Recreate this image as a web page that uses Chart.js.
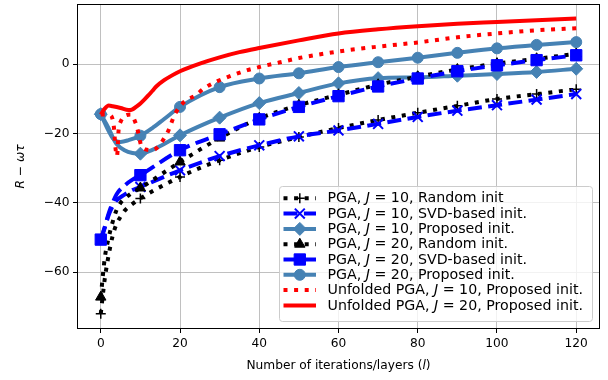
<!DOCTYPE html>
<html>
<head>
<meta charset="utf-8">
<script src="https://cdn.jsdelivr.net/npm/chart.js@4/dist/chart.umd.min.js"></script>
<style>
  html, body { margin: 0; padding: 0; background: #fff; }
  #wrap { width: 608px; height: 380px; }
</style>
</head>
<body>
<div id="wrap"><canvas id="c" width="608" height="380"></canvas></div>
<script>
// ------ data ------
const xTicks = [0, 20, 40, 60, 80, 100, 120];
const yTicks = [-60, -40, -20, 0];

const itRand   = [0, 1, 2, 3, 4, 5, 6, 8, 10, 20, 30, 40, 50, 60, 70, 80, 90, 100, 110, 120];
const rand10   = [-72, -62, -55, -49.5, -46, -44, -42.3, -40.3, -38.7, -32.5, -27.7, -23.9, -21, -18.4, -16.1, -14, -12, -10, -8.6, -7.2];
const rand20   = [-67.2, -56, -50, -45.5, -42, -40, -38.8, -37, -35.7, -28.2, -21.3, -15.6, -11.8, -8.8, -5.9, -3.6, -1.5, 0.2, 1.6, 3.0];

const itSvd    = [0, 1, 2, 3, 4, 6, 8, 10, 20, 30, 40, 50, 60, 70, 80, 90, 100, 110, 120];
const svd10    = [-50.6, -47.2, -43.5, -41, -39.3, -37.6, -36.3, -35.4, -30.6, -26.5, -23.4, -20.8, -19.1, -17.2, -15.2, -13.4, -11.8, -10.2, -8.6];
const svd20    = [-50.6, -47, -43, -40, -37.5, -35, -33.3, -32, -24.8, -20.2, -15.9, -12.3, -9.2, -6.4, -4.1, -2, -0.3, 1.2, 2.6];

const itProp10 = [0, 2, 3, 4, 6, 8, 10, 13, 16, 20, 30, 40, 50, 60, 70, 80, 90, 100, 110, 120];
const prop10   = [-14.4, -18.5, -21, -23, -24.8, -25.6, -25.8, -24.7, -23, -20.5, -15.4, -11.2, -8.3, -5.5, -4.0, -3.8, -3.3, -2.8, -2.2, -1.3];
const itProp20 = [0, 2, 3, 4, 5, 7, 10, 13, 16, 20, 30, 40, 50, 60, 70, 80, 90, 100, 110, 120];
const prop20   = [-14.4, -19.3, -21.3, -22.2, -22.4, -21.9, -20.6, -18.4, -15.8, -12.3, -6.6, -4.1, -2.6, -0.8, 0.6, 1.9, 3.3, 4.6, 5.6, 6.4];

const itUnf10  = [0, 2.4, 3.3, 3.7, 4.1, 4.5, 5, 7.5, 9, 10.4, 12.9, 16.7, 18.8, 21, 24, 26, 29, 32, 37, 40, 45, 50, 60, 70, 80, 90, 100, 110, 120];
const unf10    = [-14.5, -14.7, -18, -24, -26.5, -19, -16.6, -14.5, -17.6, -23.9, -24.8, -20, -14.2, -10.9, -8.9, -7, -5.1, -3.7, -1.7, -0.8, 0.5, 1.8, 3.7, 5.1, 6.3, 7.8, 8.9, 9.8, 10.4];
const itUnf20  = [0, 1, 2, 3, 5, 7, 8, 9, 10, 11, 12, 13, 14, 16, 18, 20, 25, 30, 35, 40, 50, 60, 70, 80, 90, 100, 110, 120];
const unf20    = [-14.5, -12.8, -11.9, -12.1, -12.6, -13.2, -13.0, -12.2, -11.3, -10.2, -9.0, -7.7, -6.4, -4.6, -3.2, -2.0, 0.2, 2.0, 3.5, 4.7, 6.9, 8.9, 10.1, 11.0, 11.7, 12.2, 12.7, 13.2];

// legend texts: plain / italic / plain
const labels = [
  ['PGA, ', 'J', ' = 10, Random init'],
  ['PGA, ', 'J', ' = 10, SVD-based init.'],
  ['PGA, ', 'J', ' = 10, Proposed init.'],
  ['PGA, ', 'J', ' = 20, Random init.'],
  ['PGA, ', 'J', ' = 20, SVD-based init.'],
  ['PGA, ', 'J', ' = 20, Proposed init.'],
  ['Unfolded PGA, ', 'J', ' = 10, Proposed init.'],
  ['Unfolded PGA, ', 'J', ' = 20, Proposed init.']
];

const FONT = '"DejaVu Sans", sans-serif';
const FS = 12.2;      // ticks + axis titles
const LFS = 14.2;     // legend
const LW = 4;
const DOT = [LW, LW * 1.65];
const DASH = [LW * 3.5, LW * 1.6];
const BLUE = '#0000ff', STEEL = '#4682b4', RED = '#ff0000', BLACK = '#000000';

const pts = (xs, ys) => xs.map((x, i) => ({ x, y: ys[i] }));

// style per series (marker only on multiples of 10)
const styles = [
  { xs: itRand,   ys: rand10, color: BLACK, dash: DOT,  marker: 'cross',    r: 5,   bw: 1.5 },
  { xs: itSvd,    ys: svd10,  color: BLUE,  dash: DASH, marker: 'crossRot', r: 7,   bw: 2 },
  { xs: itProp10, ys: prop10, color: STEEL, dash: [],   marker: 'rectRot',  r: 6.5, bw: 1 },
  { xs: itRand,   ys: rand20, color: BLACK, dash: DOT,  marker: 'triangle', r: 6,   bw: 1 },
  { xs: itSvd,    ys: svd20,  color: BLUE,  dash: DASH, marker: 'rect',     r: 8,   bw: 1 },
  { xs: itProp20, ys: prop20, color: STEEL, dash: [],   marker: 'circle',   r: 5.5, bw: 1 },
  { xs: itUnf10,  ys: unf10,  color: RED,   dash: DOT,  marker: false,      r: 0,   bw: 0 },
  { xs: itUnf20,  ys: unf20,  color: RED,   dash: [],   marker: false,      r: 0,   bw: 0 }
];

const datasets = styles.map((s, i) => ({
  data: pts(s.xs, s.ys),
  borderColor: s.color,
  backgroundColor: s.color,
  borderWidth: LW,
  borderDash: s.dash,
  borderCapStyle: 'butt',
  borderJoinStyle: 'round',
  cubicInterpolationMode: 'monotone',
  pointStyle: s.marker || 'circle',
  pointRadius: c => (s.marker && c.raw && c.raw.x % 10 === 0) ? s.r : 0,
  pointBorderWidth: s.bw,
  pointBorderColor: s.color,
  pointBackgroundColor: s.color,
  order: styles.length - i,
  clip: false
}));

// ------ text helpers ------
function drawRuns(ctx, runs, x, y, size) {
  runs.forEach((t, k) => {
    ctx.font = (k % 2 ? 'italic ' : '') + size + 'px ' + FONT;
    ctx.fillText(t, x, y);
    x += ctx.measureText(t).width;
  });
  return x;
}
function runsWidth(ctx, runs, size) {
  let w = 0;
  runs.forEach((t, k) => {
    ctx.font = (k % 2 ? 'italic ' : '') + size + 'px ' + FONT;
    w += ctx.measureText(t).width;
  });
  return w;
}

function marker(ctx, s, x, y) {
  if (!s.marker) return;
  ctx.save();
  ctx.setLineDash([]);
  ctx.fillStyle = s.color;
  ctx.strokeStyle = s.color;
  ctx.lineWidth = s.bw;
  Chart.helpers.drawPoint(ctx, { pointStyle: s.marker, radius: s.r, rotation: 0, borderWidth: s.bw }, x, y);
  ctx.restore();
}

const decor = {
  id: 'decor',
  afterDraw(chart) {
    const ctx = chart.ctx;
    const a = chart.chartArea;
    ctx.save();
    // frame
    ctx.strokeStyle = '#000';
    ctx.lineWidth = 1;
    ctx.setLineDash([]);
    ctx.strokeRect(a.left + 0.5, a.top + 0.5, a.right - a.left - 1, a.bottom - a.top - 1);

    ctx.fillStyle = '#000';
    ctx.textBaseline = 'middle';
    // x title
    const xt = ['Number of iterations/layers (', 'l', ')'];
    drawRuns(ctx, xt, (a.left + a.right) / 2 - runsWidth(ctx, xt, FS) / 2, 366, FS);
    // y title
    const yt = ['', 'R', ' \u2212 ', '\u03c9\u03c4'];
    ctx.save();
    ctx.translate(21, (a.top + a.bottom) / 2);
    ctx.rotate(-Math.PI / 2);
    drawRuns(ctx, yt, -runsWidth(ctx, yt, FS) / 2, 0, FS);
    ctx.restore();

    // legend
    const lx = 279.5, ly = 186.5, lw = 313, lh = 135, rh = 15.3;
    ctx.beginPath();
    ctx.roundRect(lx, ly, lw, lh, 3);
    ctx.fillStyle = 'rgba(255,255,255,0.8)';
    ctx.fill();
    ctx.strokeStyle = '#cccccc';
    ctx.stroke();
    styles.forEach((s, i) => {
      const y = ly + 11.8 + i * rh;
      ctx.save();
      ctx.strokeStyle = s.color;
      ctx.lineWidth = LW;
      ctx.lineCap = 'butt';
      ctx.setLineDash(s.dash);
      ctx.beginPath();
      ctx.moveTo(283.5, y);
      ctx.lineTo(316, y);
      ctx.stroke();
      ctx.restore();
      marker(ctx, s, 299.8, y);
      ctx.fillStyle = '#000';
      drawRuns(ctx, labels[i], 327.5, y + 0.5, LFS);
    });
    ctx.restore();
  }
};

const minus = v => String(v).replace('-', '\u2212');

function fixX(s) { s.height = 51; s.paddingLeft = 0; s.paddingRight = 0; }
function fixY(s) { s.width = 77; s.paddingTop = 0; s.paddingBottom = 0; }

new Chart(document.getElementById('c'), {
  type: 'line',
  data: { datasets },
  options: {
    responsive: false,
    animation: false,
    events: [],
    layout: { autoPadding: false, padding: { left: 0, right: 8, top: 4, bottom: 0 } },
    plugins: { legend: { display: false }, tooltip: { enabled: false } },
    scales: {
      x: {
        type: 'linear', min: -6, max: 126,
        afterFit: fixX,
        afterBuildTicks: s => { s.ticks = xTicks.map(v => ({ value: v })); },
        grid: { color: '#b0b0b0', lineWidth: 0.8, tickColor: '#000', tickLength: 4, tickWidth: 1 },
        border: { display: false },
        ticks: { color: '#000', font: { family: FONT, size: FS }, padding: 4, maxRotation: 0, callback: minus }
      },
      y: {
        type: 'linear', min: -76.4, max: 17.4,
        afterFit: fixY,
        afterBuildTicks: s => { s.ticks = yTicks.map(v => ({ value: v })); },
        grid: { color: '#b0b0b0', lineWidth: 0.8, tickColor: '#000', tickLength: 4, tickWidth: 1 },
        border: { display: false },
        ticks: { color: '#000', font: { family: FONT, size: FS }, padding: 3.5, callback: minus }
      }
    }
  },
  plugins: [decor]
});
</script>
</body>
</html>
